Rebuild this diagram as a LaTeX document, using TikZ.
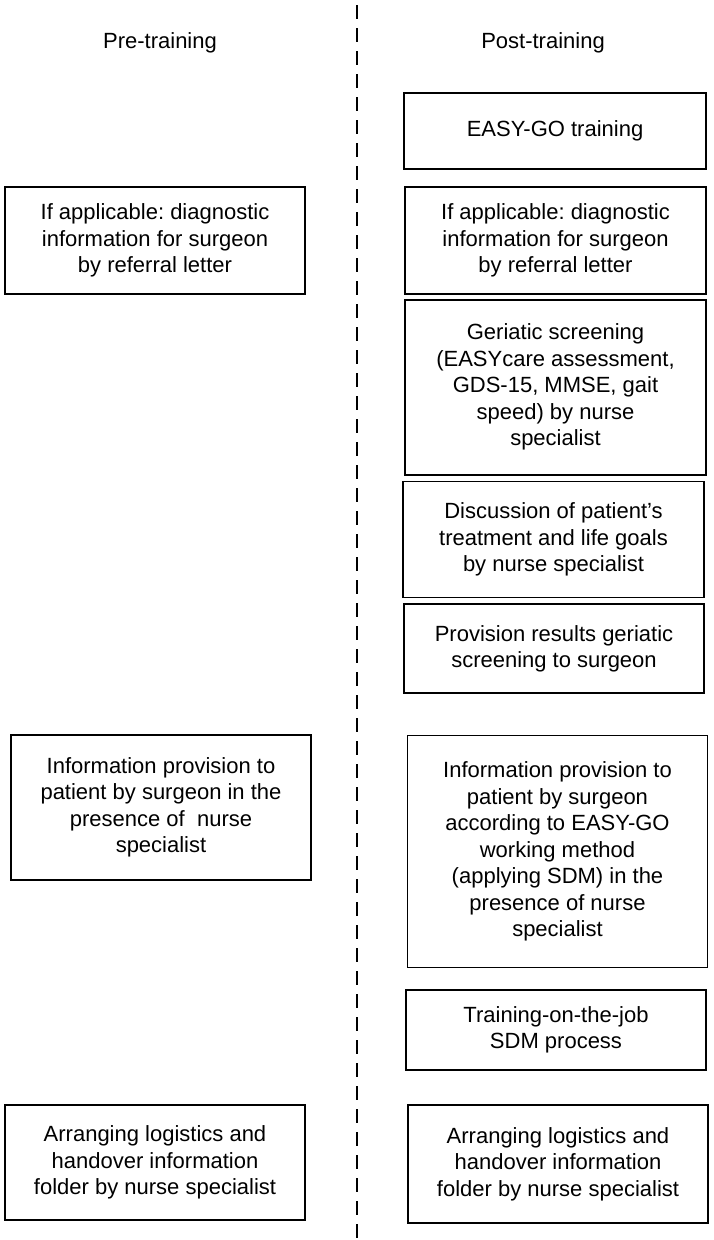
\documentclass[tikz,border=0pt]{standalone}
\usepackage{fontspec}
\setmainfont{Liberation Sans}
\usepackage{tikz}
\usetikzlibrary{positioning,calc}
\frenchspacing

\begin{document}
\begin{tikzpicture}[
    x=1pt, y=-1pt,
    node distance=4pt,
    box/.style={rectangle, draw, line width=1.7pt, align=center, inner sep=0pt, minimum width=300pt, font=\fontsize{22}{26.5}\selectfont},
    head/.style={font=\fontsize{22}{26.5}\selectfont},
    divider/.style={line width=2.6pt, dash pattern=on 14pt off 9pt}
]
\useasboundingbox (0,0) rectangle (713,1240);

% Divider
\coordinate (top) at (357,5);
\coordinate (bot) at (357,1238);
\draw[divider] (top) -- (bot);

% Column headings
\node[head] (pre) at (160,43) {Pre-training};
\node[head] (post) at (543,43) {Post-training};

% Pre-training column
\node[box, minimum height=107pt] (preref) at (155,240.5) {If applicable: diagnostic\\information for surgeon\\by referral letter};
\node[box, minimum height=145pt] (preinfo) at (161,807.5) {Information provision to\\patient by surgeon in the\\presence of\ \ nurse\\specialist};
\node[box, minimum height=115pt] (prearr) at (155,1162.5) {Arranging logistics and\\handover information\\folder by nurse specialist};

% Post-training column
\node[box, minimum width=302pt, minimum height=76pt] (easy) at (555,131) {EASY-GO training};
\node[box, minimum width=301pt, minimum height=107pt] (postref) at (555.5,240.5) {If applicable: diagnostic\\information for surgeon\\by referral letter};
\node[box, minimum width=301pt, minimum height=175pt, below=4pt of postref] (geri) {Geriatic screening\\(EASYcare assessment,\\GDS-15, MMSE, gait\\speed) by nurse\\specialist};
\node[box, minimum width=301pt, minimum height=116pt, below=5pt of geri, xshift=-2pt] (disc) {Discussion of patient’s\\treatment and life goals\\by nurse specialist};
\node[box, minimum height=89pt, below=5pt of disc, xshift=0.5pt] (prov) {Provision results geriatic\\screening to surgeon};
\node[box, minimum height=232pt] (postinfo) at (557.5,851.5) {Information provision to\\patient by surgeon\\according to EASY-GO\\working method\\(applying SDM) in the\\presence of nurse\\specialist};
\node[box, minimum height=80pt] (tojob) at (556,1030) {Training-on-the-job\\SDM process};
\node[box, minimum height=118pt] (postarr) at (558,1164) {Arranging logistics and\\handover information\\folder by nurse specialist};

\end{tikzpicture}
\end{document}
